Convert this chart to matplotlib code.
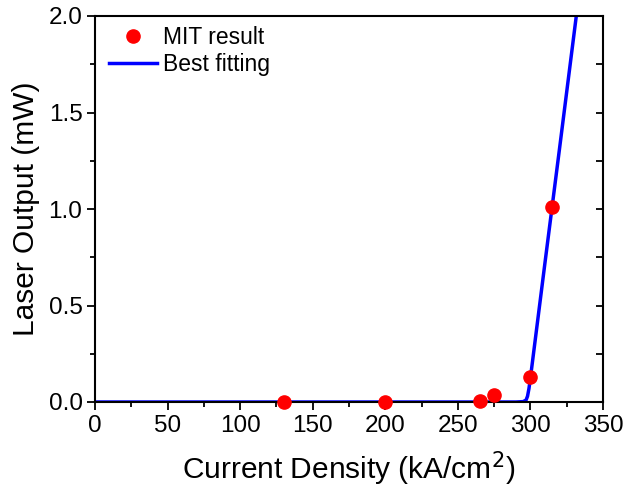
import numpy as np
import matplotlib.pyplot as plt
from matplotlib.ticker import MultipleLocator

plt.rcParams["font.family"] = ["Liberation Sans", "DejaVu Sans"]

# Measured points
mit_current = [130, 200, 265, 275, 300, 315]
mit_output = [0.0, 0.0, 0.005, 0.035, 0.13, 1.01]

# Fitted curve
fit_current = [0, 290, 295, 297, 298, 299, 300, 310, 320, 331.6, 335]
fit_output = [0.0, 0.0, 0.002, 0.01, 0.03, 0.07, 0.125, 0.72, 1.31, 2.0, 2.2]

fig = plt.figure(figsize=(6.26, 4.95), dpi=100)
ax = fig.add_axes([95 / 626, 93 / 495, 508 / 626, 386 / 495])

ax.plot(mit_current, mit_output, "o", color="red", markersize=9.5,
        label="MIT result", zorder=3, clip_on=False)
ax.plot(fit_current, fit_output, "-", color="blue", linewidth=2.5,
        label="Best fitting", zorder=2)

ax.set_xlim(0, 350)
ax.set_ylim(0, 2.0)
ax.xaxis.set_major_locator(MultipleLocator(50))
ax.xaxis.set_minor_locator(MultipleLocator(25))
ax.yaxis.set_major_locator(MultipleLocator(0.5))
ax.yaxis.set_minor_locator(MultipleLocator(0.25))
ax.yaxis.set_major_formatter(plt.FormatStrFormatter("%.1f"))

for s in ax.spines.values():
    s.set_linewidth(1.5)
ax.tick_params(which="both", direction="out", width=1.3, labelsize=17.5, pad=3)
ax.tick_params(which="major", length=6)
ax.tick_params(which="minor", length=3.5)

# right-hand ticks point inward, no labels
ax2 = ax.twinx()
ax2.set_ylim(ax.get_ylim())
ax2.yaxis.set_major_locator(MultipleLocator(0.5))
ax2.yaxis.set_minor_locator(MultipleLocator(0.25))
ax2.tick_params(which="both", direction="in", width=1.3, length=5, labelright=False)
for s in ax2.spines.values():
    s.set_visible(False)

ax.set_xlabel("Current Density (kA/cm$^2$)", fontsize=21.5, labelpad=9)
ax.set_ylabel("Laser Output (mW)", fontsize=21.5, labelpad=6)

ax.legend(loc="upper left", frameon=False, fontsize=16.5, handlelength=2.1,
          borderaxespad=0.0, handletextpad=0.25, labelspacing=0.15,
          bbox_to_anchor=(0.01, 0.997))

fig.savefig("out.png", dpi=100)
